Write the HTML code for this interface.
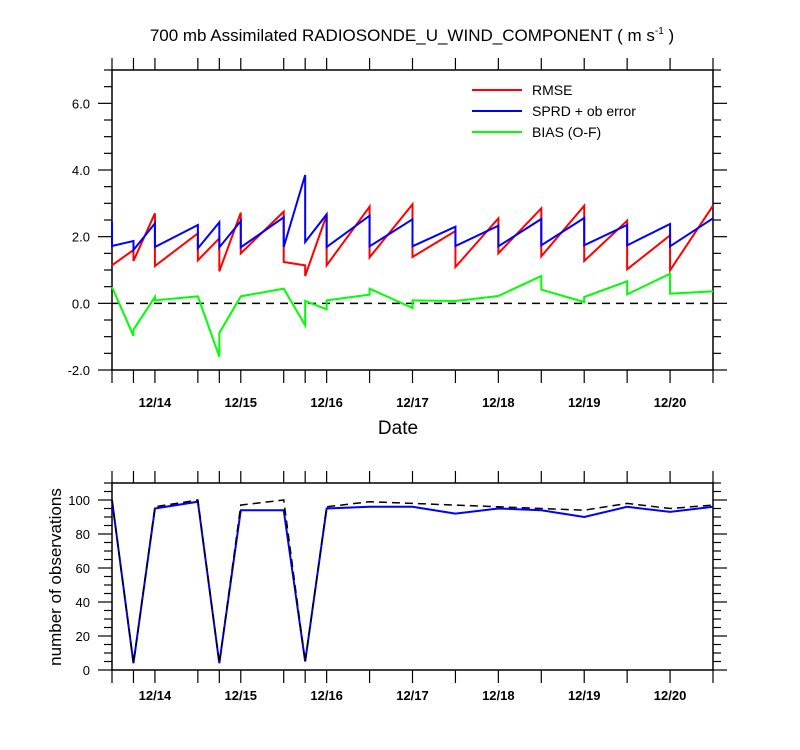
<!DOCTYPE html>
<html><head><meta charset="utf-8"><style>
body{margin:0;background:#fff;}
svg{display:block;font-family:"Liberation Sans",Arial,sans-serif;}
</style></head><body>
<svg id="chart" width="800" height="750">
<text x="412" y="41" font-size="17" text-anchor="middle">700 mb Assimilated RADIOSONDE_U_WIND_COMPONENT ( m s<tspan dy="-7" font-size="10">-1</tspan><tspan dy="7"> )</tspan></text>
<g id="topPanel"></g>
<g id="botPanel"></g>
<text x="398" y="434" font-size="19" text-anchor="middle">Date</text>
<text transform="translate(61,577) rotate(-90)" font-size="17" text-anchor="middle">number of observations</text>
<g>
<line x1="472" y1="90" x2="522" y2="90" stroke="#f00" stroke-width="2"/>
<text x="532" y="95" font-size="14">RMSE</text>
<line x1="472" y1="111" x2="522" y2="111" stroke="#00f" stroke-width="2"/>
<text x="532" y="116" font-size="14">SPRD + ob error</text>
<line x1="472" y1="132" x2="522" y2="132" stroke="#0f0" stroke-width="2"/>
<text x="532" y="137" font-size="14">BIAS (O-F)</text>
</g>
</svg>
<script>
const times=[0,6,12,24,30,36,48,54,60,72,84,96,108,120,132,144,156,168];
const dayLabels=["12/14","12/15","12/16","12/17","12/18","12/19","12/20"];
const dayTimes=[12,36,60,84,108,132,156];
const rmseIn=[1.14,1.6,2.7,2.1,1.95,2.72,2.75,1.14,2.65,2.9,2.97,2.17,2.55,2.85,2.93,2.48,2.04,2.93];
const rmseOut=[1.14,1.27,1.12,1.29,0.96,1.5,1.24,0.82,1.14,1.38,1.39,1.09,1.5,1.41,1.27,1.02,0.99,2.93];
const sprdIn=[2.45,1.87,2.4,2.35,2.43,2.47,2.58,3.85,2.67,2.63,2.52,2.3,2.33,2.53,2.56,2.35,2.38,2.55];
const sprdOut=[1.72,1.6,1.69,1.65,1.68,1.68,1.69,1.84,1.69,1.71,1.71,1.72,1.71,1.74,1.74,1.74,1.71,2.55];
const biasIn=[0.49,-0.98,0.19,0.21,-1.6,0.21,0.44,-0.66,-0.18,0.26,-0.14,0.07,0.22,0.82,0.04,0.66,0.89,0.36];
const biasOut=[0.49,-0.79,0.09,0.21,-0.89,0.21,0.44,0.07,0.09,0.44,0.09,0.07,0.22,0.41,0.19,0.27,0.29,0.36];
const obsUsed=[100,4,95,99,4,94,94,5,95,96,96,92,95,94,90,96,93,96];
const obsTotal=[100,4,96,100,4,97,100,5,96,99,98,97,96,95,94,98,95,97];
const topTicks=[-2,0,2,4,6];
const botTicks=[0,20,40,60,80,100];

const NS="http://www.w3.org/2000/svg";
const X0=112,X1=713;
const xs=t=>X0+t*(X1-X0)/168;
const yTop=v=>370-(v+2)*300/9;
const yBot=v=>670-v*187/110;
function el(p,tag,a){const e=document.createElementNS(NS,tag);for(const k in a)e.setAttribute(k,a[k]);p.appendChild(e);return e;}
function line(p,x1,y1,x2,y2,w){return el(p,"line",{x1,y1,x2,y2,stroke:"#000","stroke-width":w||1.2});}

function axes(g,ytop,ybot,yf,minStep,vmin,vmax,ticks,fmt,isTop){
  const r=el(g,"rect",{x:X0,y:ytop,width:X1-X0,height:ybot-ytop,fill:"none",stroke:"#000","stroke-width":1.5});
  
  
  times.forEach(t=>{const x=xs(t);line(g,x,ytop,x,ytop-12);line(g,x,ybot,x,ybot+13);});
  for(let v=vmin;v<=vmax+1e-9;v+=minStep){const y=yf(v);const maj=ticks.some(tk=>Math.abs(tk-v)<1e-6);
    const L=maj?14:8;line(g,X0,y,X0-L,y);line(g,X1,y,X1+L,y);}
  ticks.forEach(v=>{const t=el(g,"text",{x:X0-22,y:yf(v)+5,"font-size":13,"text-anchor":"end"});t.textContent=fmt(v);
    
    });
  dayTimes.forEach((t,i)=>{const tx=el(g,"text",{x:xs(t),y:isTop?407:700,"font-size":13,"font-weight":"bold","text-anchor":"middle"});tx.textContent=dayLabels[i];
    
    });
}
const topG=document.getElementById("topPanel"),botG=document.getElementById("botPanel");
axes(topG,70,370,yTop,0.5,-2,7,topTicks,v=>v.toFixed(1),true);
axes(botG,483,670,yBot,5,0,110,botTicks,v=>String(v),false);
const zl=line(topG,X0,yTop(0),X1,yTop(0),1.5);zl.setAttribute("stroke-dasharray","8,6");



function saw(inA,outA){const pts=[];times.forEach((t,i)=>{pts.push(xs(t)+","+yTop(inA[i]));pts.push(xs(t)+","+yTop(outA[i]));});return pts.join(" ");}
const s1=el(topG,"polyline",{points:saw(rmseIn,rmseOut),fill:"none",stroke:"#f00","stroke-width":2});


const s2=el(topG,"polyline",{points:saw(sprdIn,sprdOut),fill:"none",stroke:"#00f","stroke-width":2});


const s3=el(topG,"polyline",{points:saw(biasIn,biasOut),fill:"none",stroke:"#0f0","stroke-width":2});



const b1=el(botG,"polyline",{points:times.map((t,i)=>xs(t)+","+yBot(obsUsed[i])).join(" "),fill:"none",stroke:"#00f","stroke-width":2});


const b2=el(botG,"polyline",{points:times.map((t,i)=>xs(t)+","+yBot(obsTotal[i])).join(" "),fill:"none",stroke:"#000","stroke-width":1.5,"stroke-dasharray":"8,5"});


</script>
</body></html>
